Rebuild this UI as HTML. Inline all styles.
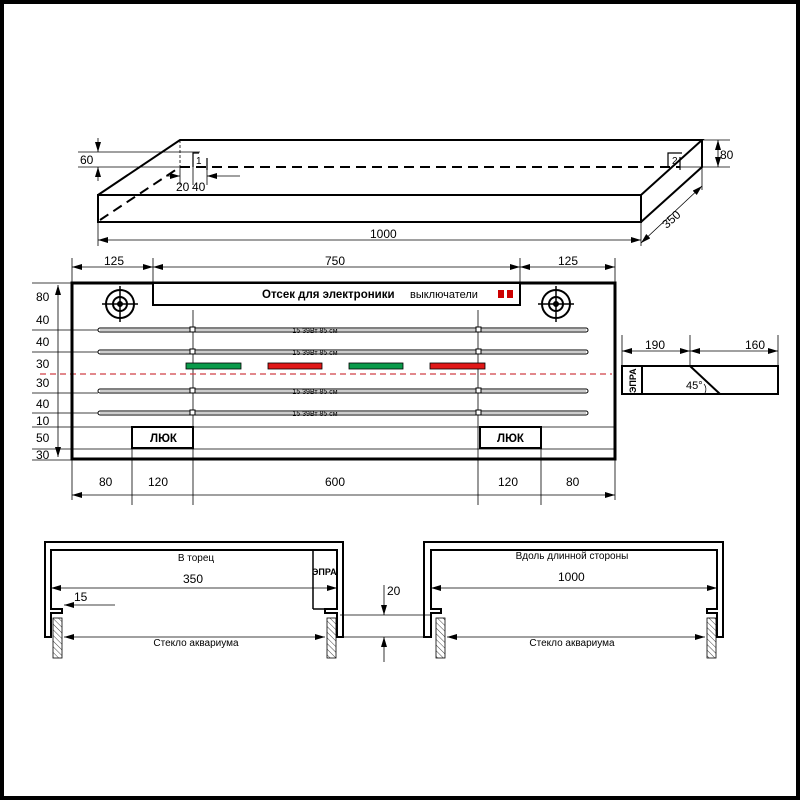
<!DOCTYPE html>
<html><head><meta charset="utf-8"><style>
html,body{margin:0;padding:0;background:#fff}
svg{display:block}
text{font-family:"Liberation Sans",sans-serif;fill:#000}
</style></head><body>
<svg width="800" height="800" viewBox="0 0 800 800" xmlns="http://www.w3.org/2000/svg">
<defs>
<marker id="a" markerWidth="10" markerHeight="6" refX="10" refY="3" orient="auto-start-reverse" markerUnits="userSpaceOnUse"><path d="M0,0 L10,3 L0,6Z" fill="#000"/></marker>
<pattern id="h" width="4" height="4" patternUnits="userSpaceOnUse" patternTransform="rotate(-45)"><line x1="0" y1="0" x2="0" y2="4" stroke="#444" stroke-width="1"/></pattern>
</defs>
<rect x="2" y="2" width="796" height="796" fill="#fff" stroke="#000" stroke-width="4"/>

<!-- 3D box -->
<g stroke="#000" fill="none" stroke-width="2">
<rect x="98" y="195" width="543" height="27"/>
<polyline points="98,195 180,140 702,140 641,195"/>
<polyline points="641,222 702,167 702,140"/>
<line x1="180" y1="167" x2="680" y2="167" stroke-dasharray="10,6"/>
<line x1="100" y1="220" x2="180" y2="167" stroke-dasharray="10,6"/>
<polyline points="193,167 193,153 199,153" stroke-width="1.2"/>
<line x1="207" y1="158" x2="207" y2="170" stroke-width="1.2"/>
<polyline points="668,167 668,153 682,153" stroke-width="1.2"/>
<line x1="680" y1="157" x2="680" y2="170" stroke-width="1.2"/>
</g>
<text x="196" y="164" font-size="10">1</text>
<text x="672" y="164" font-size="10">2</text>
<g stroke="#000" stroke-width="0.8" fill="none">
<line x1="180" y1="140" x2="180" y2="167" stroke-dasharray="3,2"/>
<line x1="78" y1="152" x2="200" y2="152"/><line x1="78" y1="167" x2="180" y2="167"/>
<line x1="98" y1="138" x2="98" y2="152" marker-end="url(#a)"/><line x1="98" y1="181" x2="98" y2="167" marker-end="url(#a)"/>
<line x1="180" y1="167" x2="180" y2="185"/><line x1="193" y1="167" x2="193" y2="185"/><line x1="207" y1="167" x2="207" y2="185"/>
<line x1="166" y1="176" x2="180" y2="176" marker-end="url(#a)"/><line x1="240" y1="176" x2="207" y2="176" marker-end="url(#a)"/>
<line x1="702" y1="140" x2="730" y2="140"/><line x1="680" y1="167" x2="730" y2="167"/>
<line x1="718" y1="140" x2="718" y2="167" marker-start="url(#a)" marker-end="url(#a)"/>
<line x1="98" y1="222" x2="98" y2="246"/><line x1="641" y1="222" x2="641" y2="246"/>
<line x1="98" y1="240" x2="641" y2="240" marker-start="url(#a)" marker-end="url(#a)"/>
<line x1="702" y1="167" x2="702" y2="190"/>
<line x1="641" y1="243" x2="702" y2="186" marker-start="url(#a)" marker-end="url(#a)"/>
</g>
<g font-size="12">
<text x="80" y="164">60</text><text x="176" y="191">20</text><text x="192" y="191">40</text>
<text x="720" y="159">80</text><text x="370" y="238">1000</text>
<text x="660" y="224" transform="rotate(-42 670 218)">350</text>
</g>

<!-- main panel -->
<g stroke="#000" stroke-width="0.8" fill="none">
<line x1="72" y1="258" x2="72" y2="283"/><line x1="153" y1="258" x2="153" y2="283"/><line x1="520" y1="258" x2="520" y2="283"/><line x1="615" y1="258" x2="615" y2="283"/>
<line x1="72" y1="267" x2="153" y2="267" marker-start="url(#a)" marker-end="url(#a)"/>
<line x1="153" y1="267" x2="520" y2="267" marker-start="url(#a)" marker-end="url(#a)"/>
<line x1="520" y1="267" x2="615" y2="267" marker-start="url(#a)" marker-end="url(#a)"/>
<line x1="58" y1="285" x2="58" y2="457" marker-start="url(#a)" marker-end="url(#a)"/>
<line x1="32" y1="283" x2="72" y2="283"/><line x1="32" y1="330" x2="98" y2="330"/><line x1="32" y1="352" x2="98" y2="352"/>
<line x1="32" y1="393" x2="98" y2="393"/><line x1="32" y1="413" x2="98" y2="413"/>
<line x1="32" y1="427" x2="615" y2="427"/><line x1="32" y1="449" x2="615" y2="449"/><line x1="32" y1="460" x2="90" y2="460"/>
<line x1="193" y1="310" x2="193" y2="505"/><line x1="478" y1="310" x2="478" y2="505"/>
<line x1="72" y1="460" x2="72" y2="500"/><line x1="132" y1="447" x2="132" y2="505"/><line x1="541" y1="447" x2="541" y2="505"/><line x1="615" y1="460" x2="615" y2="500"/>
<line x1="72" y1="495" x2="615" y2="495" marker-start="url(#a)" marker-end="url(#a)"/>
</g>
<line x1="40" y1="374" x2="612" y2="374" stroke="#d04048" stroke-width="1.2" stroke-dasharray="6,4"/>
<rect x="72" y="283" width="543" height="176" fill="none" stroke="#000" stroke-width="3"/>
<rect x="153" y="283" width="367" height="22" fill="#fff" stroke="#000" stroke-width="2"/>
<text x="262" y="298" font-size="11.5" font-weight="bold">Отсек для электроники</text>
<text x="410" y="298" font-size="11">выключатели</text>
<rect x="498" y="290" width="6" height="8" fill="#c00"/><rect x="507" y="290" width="6" height="8" fill="#c00"/>
<g stroke="#000" stroke-width="2" fill="none">
<circle cx="120" cy="304" r="14"/><circle cx="120" cy="304" r="7"/><circle cx="120" cy="304" r="2"/>
<circle cx="556" cy="304" r="14"/><circle cx="556" cy="304" r="7"/><circle cx="556" cy="304" r="2"/>
</g>
<g stroke="#000" stroke-width="1.5"><line x1="102" y1="304" x2="138" y2="304"/><line x1="120" y1="286" x2="120" y2="322"/>
<line x1="538" y1="304" x2="574" y2="304"/><line x1="556" y1="286" x2="556" y2="322"/></g>
<g fill="#fff" stroke="#000" stroke-width="1">
<rect x="98" y="328" width="490" height="4" rx="2"/><rect x="98" y="350" width="490" height="4" rx="2"/>
<rect x="98" y="389" width="490" height="4" rx="2"/><rect x="98" y="411" width="490" height="4" rx="2"/>
</g>
<g fill="#ccc"><rect x="100" y="329" width="486" height="2"/><rect x="100" y="351" width="486" height="2"/><rect x="100" y="390" width="486" height="2"/><rect x="100" y="412" width="486" height="2"/></g>
<g fill="#fff" stroke="#000" stroke-width="1">
<rect x="190" y="327" width="5" height="5"/><rect x="476" y="327" width="5" height="5"/>
<rect x="190" y="349" width="5" height="5"/><rect x="476" y="349" width="5" height="5"/>
<rect x="190" y="388" width="5" height="5"/><rect x="476" y="388" width="5" height="5"/>
<rect x="190" y="410" width="5" height="5"/><rect x="476" y="410" width="5" height="5"/>
</g>
<g font-size="7" text-anchor="middle"><text x="315" y="333">15 39Вт 85 см</text><text x="315" y="355">15 39Вт 85 см</text><text x="315" y="394">15 39Вт 85 см</text><text x="315" y="416">15 39Вт 85 см</text></g>
<g stroke="#000" stroke-width="0.8">
<rect x="186" y="363" width="55" height="6" fill="#0a9a4a"/><rect x="268" y="363" width="54" height="6" fill="#e01818"/>
<rect x="349" y="363" width="54" height="6" fill="#0a9a4a"/><rect x="430" y="363" width="55" height="6" fill="#e01818"/>
</g>
<rect x="132" y="427" width="61" height="21" fill="#fff" stroke="#000" stroke-width="2"/>
<rect x="480" y="427" width="61" height="21" fill="#fff" stroke="#000" stroke-width="2"/>
<g font-size="11.5" font-weight="bold"><text x="150" y="442">ЛЮК</text><text x="497" y="442">ЛЮК</text></g>
<g font-size="12">
<text x="36" y="301">80</text><text x="36" y="324">40</text><text x="36" y="346">40</text><text x="36" y="368">30</text>
<text x="36" y="387">30</text><text x="36" y="408">40</text><text x="36" y="425">10</text><text x="36" y="442">50</text><text x="36" y="459">30</text>
<text x="104" y="265">125</text><text x="325" y="265">750</text><text x="558" y="265">125</text>
<text x="99" y="486">80</text><text x="148" y="486">120</text><text x="325" y="486">600</text><text x="498" y="486">120</text><text x="566" y="486">80</text>
</g>

<!-- side view -->
<g stroke="#000" stroke-width="0.8">
<line x1="622" y1="335" x2="622" y2="366"/><line x1="690" y1="335" x2="690" y2="366"/><line x1="778" y1="335" x2="778" y2="366"/>
<line x1="622" y1="351" x2="690" y2="351" marker-start="url(#a)" marker-end="url(#a)"/>
<line x1="690" y1="351" x2="778" y2="351" marker-start="url(#a)" marker-end="url(#a)"/>
</g>
<rect x="622" y="366" width="156" height="28" fill="none" stroke="#000" stroke-width="2"/>
<line x1="642" y1="366" x2="642" y2="394" stroke="#000" stroke-width="2"/>
<line x1="690" y1="366" x2="720" y2="394" stroke="#000" stroke-width="2"/>
<path d="M704,384 A8,8 0 0 1 705,393" fill="none" stroke="#000" stroke-width="0.7"/>
<text x="636" y="393" font-size="9" font-weight="bold" transform="rotate(-90 636 393)">ЭПРА</text>
<text x="686" y="389" font-size="11">45°</text>
<g font-size="12"><text x="645" y="349">190</text><text x="745" y="349">160</text></g>

<!-- bottom left profile -->
<path d="M45,637 V542 H343 V637 H337 V613 H325 V609 H337 V550 H51 V609 H62 V613 H51 V637 Z" fill="none" stroke="#000" stroke-width="2"/>
<polyline points="313,609 313,550" fill="none" stroke="#000" stroke-width="1.5"/>
<line x1="313" y1="609" x2="325" y2="609" stroke="#000" stroke-width="1.5"/>
<text x="312" y="575" font-size="9" font-weight="bold">ЭПРА</text>
<rect x="53" y="618" width="9" height="40" fill="url(#h)" stroke="#000" stroke-width="0.8"/>
<rect x="327" y="618" width="9" height="40" fill="url(#h)" stroke="#000" stroke-width="0.8"/>
<g stroke="#000" stroke-width="0.8">
<line x1="51" y1="588" x2="337" y2="588" marker-start="url(#a)" marker-end="url(#a)"/>
<line x1="115" y1="605" x2="64" y2="605" marker-end="url(#a)"/>
<line x1="64" y1="637" x2="325" y2="637" marker-start="url(#a)" marker-end="url(#a)"/>
<line x1="340" y1="615" x2="430" y2="615"/><line x1="343" y1="637" x2="430" y2="637"/>
<line x1="384" y1="585" x2="384" y2="615" marker-end="url(#a)"/>
<line x1="384" y1="662" x2="384" y2="637" marker-end="url(#a)"/>
</g>
<g font-size="10" text-anchor="middle"><text x="196" y="561">В торец</text><text x="196" y="646">Стекло аквариума</text>
<text x="572" y="559">Вдоль длинной стороны</text><text x="572" y="646">Стекло аквариума</text></g>
<g font-size="12"><text x="183" y="583">350</text><text x="74" y="601">15</text><text x="387" y="595">20</text><text x="558" y="581">1000</text></g>

<!-- bottom right profile -->
<path d="M424,637 V542 H723 V637 H717 V613 H707 V609 H717 V550 H431 V609 H441 V613 H431 V637 Z" fill="none" stroke="#000" stroke-width="2"/>
<rect x="436" y="618" width="9" height="40" fill="url(#h)" stroke="#000" stroke-width="0.8"/>
<rect x="707" y="618" width="9" height="40" fill="url(#h)" stroke="#000" stroke-width="0.8"/>
<g stroke="#000" stroke-width="0.8">
<line x1="431" y1="588" x2="717" y2="588" marker-start="url(#a)" marker-end="url(#a)"/>
<line x1="447" y1="637" x2="705" y2="637" marker-start="url(#a)" marker-end="url(#a)"/>
</g>
</svg>
</body></html>
